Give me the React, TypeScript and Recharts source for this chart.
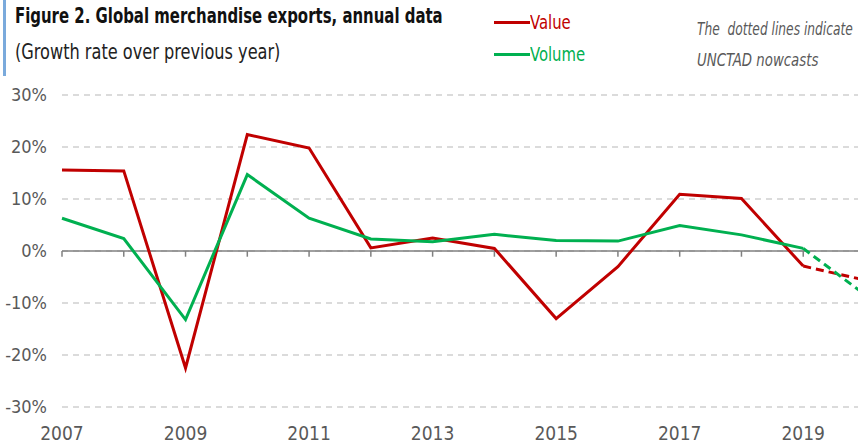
import React from "react";
import {
  LineChart, Line, XAxis, YAxis, CartesianGrid, ReferenceLine,
} from "recharts";

const years = ["2007", "2008", "2009", "2010", "2011", "2012", "2013", "2014", "2015", "2016", "2017", "2018", "2019", "2020"];
const valueGrowth = [15.6, 15.4, -22.5, 22.4, 19.8, 0.6, 2.5, 0.5, -13.0, -3.0, 10.9, 10.1, -2.9, -5.6];
const volumeGrowth = [6.3, 2.4, -13.2, 14.7, 6.3, 2.3, 1.8, 3.2, 2.0, 1.9, 4.9, 3.1, 0.5, -8.4];
// last year in the lists is an UNCTAD nowcast (drawn dotted)
const nowcastFrom = 12;
const xTicks = ["2007", "2009", "2011", "2013", "2015", "2017", "2019"];
const yTicks = [-30, -20, -10, 0, 10, 20, 30];

const RED = "#c00000";
const GREEN = "#00b050";
const GREY = "#595959";
const FONT = "'DejaVu Sans Condensed', 'Liberation Sans', sans-serif";

const data = years.map((year, i) => ({
  year,
  value: i <= nowcastFrom ? valueGrowth[i] : null,
  volume: i <= nowcastFrom ? volumeGrowth[i] : null,
  valueNow: i >= nowcastFrom ? valueGrowth[i] : null,
  volumeNow: i >= nowcastFrom ? volumeGrowth[i] : null,
}));

// no narrow font installed, so squeeze the html texts a bit
function Narrow({ left, top, sx, style, children }: {
  left: number; top: number; sx: number; style?: React.CSSProperties; children: React.ReactNode;
}) {
  return (
    <div style={{
      position: "absolute", left, top, whiteSpace: "nowrap", fontFamily: FONT,
      transform: `scaleX(${sx})`, transformOrigin: "left top", ...style,
    }}>
      {children}
    </div>
  );
}

function LegendItem({ color, label, top }: { color: string; label: string; top: number }) {
  return (
    <div style={{ position: "absolute", left: 494, top, display: "flex", alignItems: "center" }}>
      <span style={{ width: 36, height: 3, background: color, display: "inline-block" }} />
      <span style={{ color, fontSize: 19, fontFamily: FONT, display: "inline-block", transform: "scaleX(0.87)", transformOrigin: "left center" }}>
        {label}
      </span>
    </div>
  );
}

const noteStyle: React.CSSProperties = { fontStyle: "italic", fontSize: 17, color: GREY };

export default function App() {
  return (
    <div style={{ position: "absolute", left: 0, top: 0, width: 858, height: 447, overflow: "hidden", background: "#fff" }}>
      <div style={{ position: "absolute", left: 3, top: 0, width: 3, height: 76, background: "#7aaadc" }} />
      <Narrow left={15} top={4} sx={0.79} style={{ fontWeight: 700, fontSize: 21, color: "#111" }}>
        Figure 2. Global merchandise exports, annual data
      </Narrow>
      <Narrow left={15} top={40} sx={0.855} style={{ fontSize: 21, color: "#222" }}>
        (Growth rate over previous year)
      </Narrow>
      <LegendItem color={RED} label="Value" top={11} />
      <LegendItem color={GREEN} label="Volume" top={43} />
      <Narrow left={697} top={19} sx={0.8} style={noteStyle}>The&nbsp; dotted lines indicate</Narrow>
      <Narrow left={697} top={50} sx={0.87} style={noteStyle}>UNCTAD nowcasts</Narrow>

      <div style={{ position: "absolute", left: 0, top: 0 }}>
        <LineChart width={880} height={447} data={data} margin={{ top: 95, right: 15, left: 0, bottom: 10 }}>
          <CartesianGrid vertical={false} stroke="#d0d0d0" strokeDasharray="6 5" strokeWidth={1.5} />
          <XAxis dataKey="year" ticks={xTicks} axisLine={false} tickLine={false} height={30} tickMargin={14}
            tick={{ fontSize: 19, fill: GREY, fontFamily: FONT }} />
          <YAxis domain={[-30, 30]} ticks={yTicks} width={62} axisLine={false} tickLine={false} tickMargin={9}
            tickFormatter={(v: number) => `${v}%`} tick={{ fontSize: 18, fill: GREY, fontFamily: FONT }} />
          <ReferenceLine y={0} stroke="#808080" strokeWidth={1.5} />
          {years.map((y) => (
            <ReferenceLine key={y} segment={[{ x: y, y: 0 }, { x: y, y: -1.1 }]} stroke="#808080" strokeWidth={1.5} />
          ))}
          <Line dataKey="value" stroke={RED} strokeWidth={3} dot={false} isAnimationActive={false} />
          <Line dataKey="volume" stroke={GREEN} strokeWidth={3} dot={false} isAnimationActive={false} />
          <Line dataKey="valueNow" stroke={RED} strokeWidth={3} strokeDasharray="8 5" dot={false} isAnimationActive={false} />
          <Line dataKey="volumeNow" stroke={GREEN} strokeWidth={3} strokeDasharray="8 5" dot={false} isAnimationActive={false} />
        </LineChart>
      </div>
    </div>
  );
}
